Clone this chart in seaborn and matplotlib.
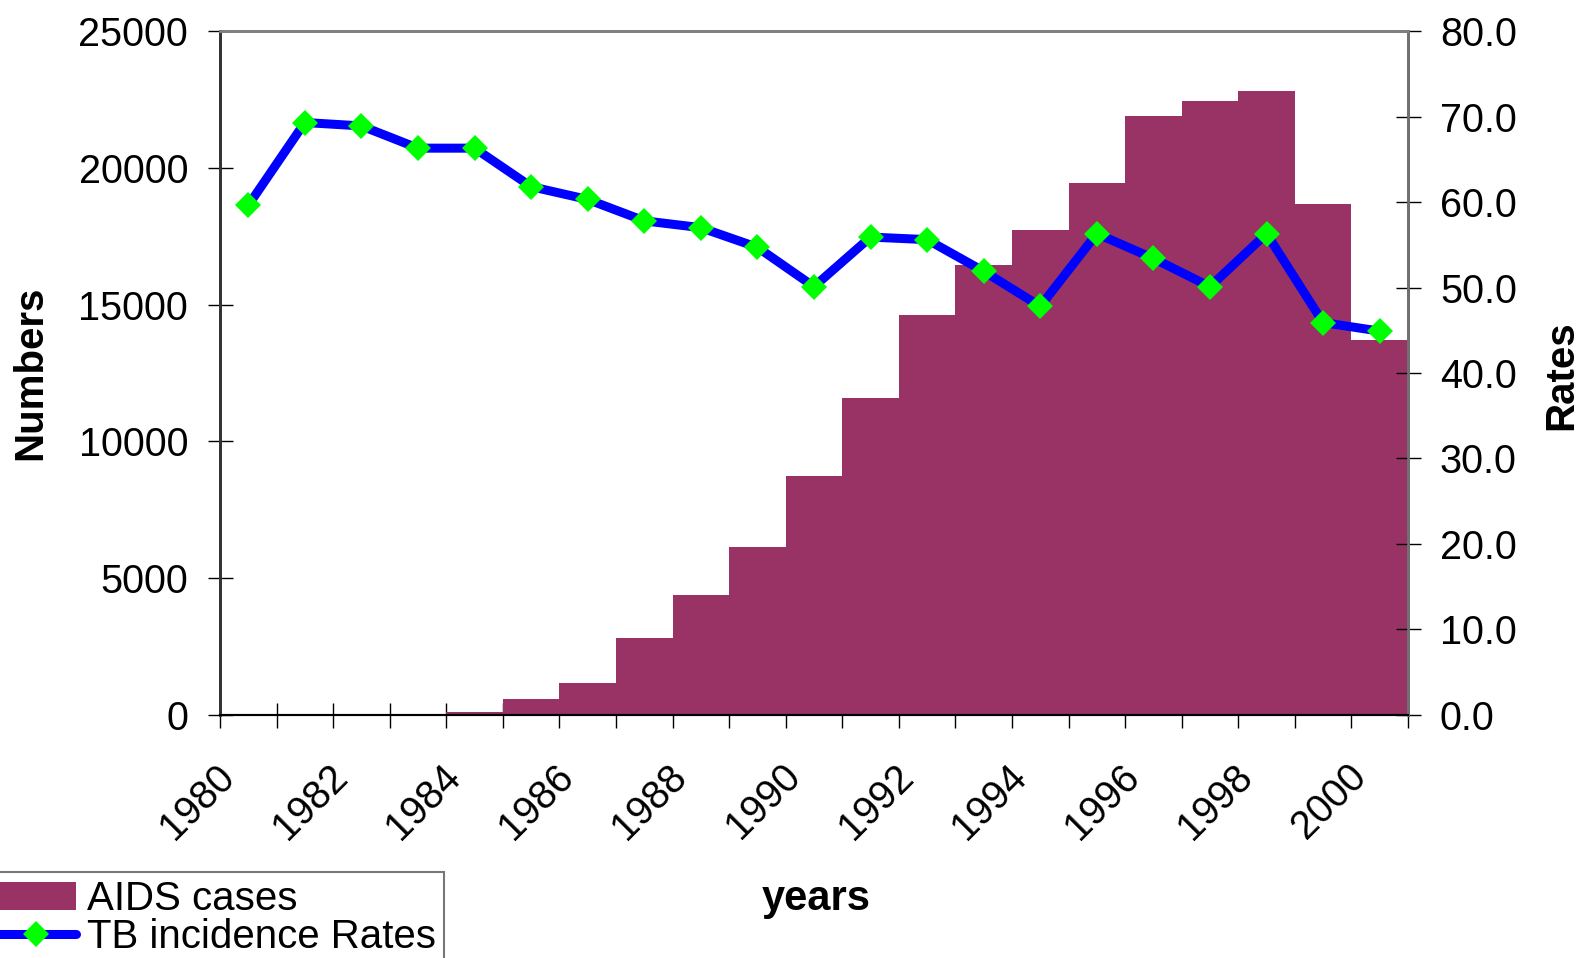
import numpy as np
import pandas as pd
import matplotlib
matplotlib.use("Agg")
import matplotlib.pyplot as plt
from matplotlib.patches import Patch
from matplotlib.lines import Line2D
from matplotlib.ticker import FixedLocator, FuncFormatter
import seaborn as sns

years = list(range(1980, 2001))
aids_cases = [0, 0, 0, 0, 110, 600, 1180, 2800, 4380, 6150, 8720, 11590,
              14610, 16430, 17720, 19450, 21880, 22460, 22790, 18660, 13690]
tb_rates = [59.6, 69.3, 68.9, 66.3, 66.3, 61.8, 60.3, 57.8, 57.0, 54.7, 50.1,
            55.9, 55.6, 51.9, 47.8, 56.3, 53.4, 50.1, 56.3, 45.9, 44.9]
year_labels = [str(y) for y in years[::2]]

sns.set_theme(style="white")
plt.rcParams["font.family"] = ["Liberation Sans", "DejaVu Sans"]
plt.rcParams["text.color"] = "black"
plt.rcParams["axes.labelcolor"] = "black"
plt.rcParams["xtick.color"] = "black"
plt.rcParams["ytick.color"] = "black"

BAR = "#993366"
LINE = "#0000FF"
MARK = "#00FF00"
FS = 28.5

df = pd.DataFrame({"year": [str(y) for y in years], "aids": aids_cases})

fig = plt.figure(figsize=(15.79, 9.58), dpi=100)
ax = fig.add_subplot(111)
fig.subplots_adjust(left=0.1393, right=0.8917, top=0.9676, bottom=0.2537)

sns.barplot(data=df, x="year", y="aids", color=BAR, saturation=1, width=1.0,
            edgecolor="none", linewidth=0, ax=ax)

ax2 = ax.twinx()
xpos = np.arange(len(years))
sns.lineplot(x=xpos, y=tb_rates, ax=ax2, color=LINE, linewidth=6.5,
             marker="D", markersize=13, markerfacecolor=MARK,
             markeredgecolor=MARK, markeredgewidth=0, legend=False)

n = len(years)
ax.set_xlim(-0.5, n - 0.5)
ax2.set_xlim(-0.5, n - 0.5)
ax.set_ylim(0, 25000)
ax2.set_ylim(0, 80)

# x axis: boundary ticks without labels; rotated year labels every second
# bar, anchored a little left of the bar centre so the text ends beside it
label_offset = 0.35
ax.set_xticks(np.arange(0, n, 2) - label_offset)
ax.set_xticklabels(year_labels, rotation=45, ha="right", va="center",
                   rotation_mode="anchor", fontsize=FS)
ax.xaxis.set_minor_locator(FixedLocator(np.arange(-0.5, n, 1.0)))
ax.tick_params(axis="x", which="major", length=0, pad=40)
ax.tick_params(axis="x", which="minor", direction="inout", length=18,
               width=1, color="black", bottom=True)

ax.set_yticks(np.arange(0, 25001, 5000))
ax.tick_params(axis="y", which="major", direction="inout", length=18, width=1,
               color="black", labelsize=FS, pad=14, left=True)
ax2.set_yticks(np.arange(0, 81, 10))
ax2.yaxis.set_major_formatter(FuncFormatter(lambda v, p: f"{v:.1f}"))
ax2.tick_params(axis="y", which="major", direction="inout", length=18, width=1,
                color="black", labelsize=FS, pad=14, right=True)

ax.set_xlabel("years", fontsize=30, fontweight="bold")
ax.set_ylabel("Numbers", fontsize=29, fontweight="bold")
ax2.set_ylabel("Rates", fontsize=29, fontweight="bold")
ax.xaxis.set_label_coords(0.502, -0.240)
ax.yaxis.set_label_coords(-0.144, 0.5)
ax2.yaxis.set_label_coords(1.113, 0.497)

for a in (ax, ax2):
    a.spines["top"].set_color("#808080")
    a.spines["top"].set_linewidth(2)
    a.spines["left"].set_color("#333333")
    a.spines["left"].set_linewidth(2)
    a.spines["right"].set_color("#707070")
    a.spines["right"].set_linewidth(2)
    a.spines["bottom"].set_color("black")
    a.spines["bottom"].set_linewidth(1.5)
    a.grid(False)

handles = [
    Patch(facecolor=BAR, edgecolor="none", label="AIDS cases"),
    Line2D([0], [0], color=LINE, linewidth=6.5, marker="D", markersize=13,
           markerfacecolor=MARK, markeredgewidth=0, label="TB incidence Rates"),
]
leg = fig.legend(handles=handles, loc="upper left",
                 bbox_to_anchor=(-0.007, 0.0898), fontsize=29, frameon=True,
                 fancybox=False, borderaxespad=0, borderpad=0.2,
                 handlelength=1.95, handletextpad=0.28, labelspacing=0.0,
                 numpoints=1)
leg.get_frame().set_edgecolor("#555555")
leg.get_frame().set_linewidth(1.5)

fig.savefig("out.png", dpi=100)
